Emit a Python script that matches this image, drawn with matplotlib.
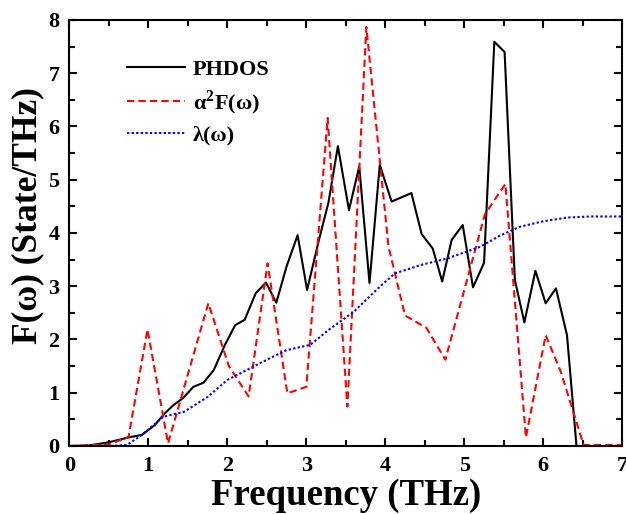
import numpy as np
import matplotlib.pyplot as plt
from matplotlib.ticker import MultipleLocator

# PHDOS (black solid)
phdos_x = [0, 0.25, 0.5, 0.75, 0.92, 1.08, 1.2, 1.32, 1.44, 1.57, 1.70, 1.83, 1.97,
           2.10, 2.22, 2.36, 2.49, 2.62, 2.75, 2.89, 3.01, 3.16, 3.28, 3.40, 3.54,
           3.67, 3.80, 3.93, 4.08, 4.33, 4.46, 4.60, 4.72, 4.84, 4.98, 5.11, 5.25,
           5.38, 5.51, 5.64, 5.76, 5.90, 6.03, 6.16, 6.30, 6.42, 7.0]
phdos_y = [0, 0.01, 0.07, 0.16, 0.21, 0.39, 0.6, 0.77, 0.9, 1.11, 1.19, 1.43, 1.9,
           2.27, 2.37, 2.87, 3.07, 2.69, 3.37, 3.96, 2.93, 3.87, 4.57, 5.63, 4.43,
           5.25, 3.06, 5.28, 4.59, 4.75, 3.98, 3.71, 3.09, 3.87, 4.15, 2.98, 3.44,
           7.59, 7.40, 3.12, 2.32, 3.29, 2.68, 2.96, 2.08, 0.0, 0.0]

# alpha^2 F (red dashed)
a2f_x = [0, 0.5, 0.75, 0.99, 1.25, 1.76, 2.02, 2.27, 2.51, 2.76, 3.0, 3.27, 3.52,
         3.76, 4.04, 4.25, 4.52, 4.76, 5.26, 5.52, 5.78, 6.03, 6.22, 6.51, 7.0]
a2f_y = [0, 0.03, 0.17, 2.19, 0.05, 2.68, 1.5, 0.93, 3.43, 0.99, 1.11, 6.16, 0.74,
         7.87, 3.75, 2.45, 2.22, 1.62, 4.35, 4.92, 0.16, 2.08, 1.4, 0.02, 0.02]

# lambda (blue dotted)
lam_x = [0, 0.5, 0.73, 0.92, 1.19, 1.45, 1.75, 2.0, 2.25, 2.5, 2.75, 3.05, 3.3,
         3.6, 3.93, 4.12, 4.45, 4.78, 5.2, 5.45, 5.71, 6.0, 6.3, 6.6, 7.0]
lam_y = [0, 0, 0.02, 0.21, 0.55, 0.64, 0.92, 1.24, 1.43, 1.62, 1.8, 1.9, 2.2,
         2.52, 2.99, 3.24, 3.4, 3.52, 3.74, 3.95, 4.12, 4.22, 4.29, 4.31, 4.31]

plt.rcParams['font.family'] = ['Liberation Serif', 'DejaVu Serif']
plt.rcParams['font.weight'] = 'bold'
plt.rcParams['mathtext.fontset'] = 'custom'
plt.rcParams['mathtext.rm'] = 'Liberation Serif:bold'
plt.rcParams['mathtext.bf'] = 'Liberation Serif:bold'

fig = plt.figure(figsize=(6.26, 5.14), dpi=100)
ax = fig.add_axes([0.1107, 0.1323, 0.8834, 0.8288])

ax.plot(phdos_x, phdos_y, color='black', lw=1.5, label='PHDOS')
ax.plot(a2f_x, a2f_y, color='red', lw=1.5, ls=(0, (3.5, 2)), label='α$^{2}$F(ω)')
ax.plot(lam_x, lam_y, color='blue', lw=1.5, ls=(0, (1.1, 1.1)), label='λ(ω)')

ax.set_xlim(0, 7)
ax.set_ylim(0, 8)
ax.xaxis.set_major_locator(MultipleLocator(1))
ax.xaxis.set_minor_locator(MultipleLocator(0.5))
ax.yaxis.set_major_locator(MultipleLocator(1))
ax.yaxis.set_minor_locator(MultipleLocator(0.5))
ax.tick_params(which='both', direction='in', top=True, right=True, width=1.5)
ax.tick_params(which='major', length=6, labelsize=16, pad=7)
ax.tick_params(which='minor', length=4)
for s in ax.spines.values():
    s.set_linewidth(1.5)

ax.set_xlabel('Frequency (THz)', fontsize=26.5, fontweight='bold', labelpad=2)
ax.set_ylabel('F(ω) (State/THz)', fontsize=25.5, fontweight='bold')
ax.yaxis.set_label_coords(-0.045, 0.542)

ax.legend(loc='upper left', bbox_to_anchor=(0.105, 0.908), frameon=False,
          fontsize=16, handlelength=2.6, handletextpad=0.35, labelspacing=0.38,
          borderpad=0, borderaxespad=0)

fig.savefig('out.png', dpi=100)
